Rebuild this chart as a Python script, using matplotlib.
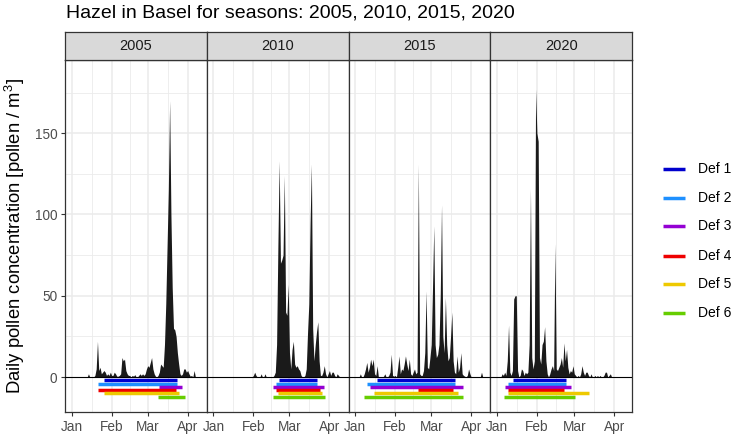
import matplotlib
matplotlib.use("Agg")
import matplotlib.pyplot as plt
from matplotlib.lines import Line2D
import numpy as np

plt.rcParams['font.family'] = ['Liberation Sans', 'DejaVu Sans']
plt.rcParams['mathtext.fontset'] = 'custom'
plt.rcParams['mathtext.rm'] = 'Liberation Sans'
plt.rcParams['mathtext.it'] = 'Liberation Sans:italic'

# ---------------- data ----------------
title = "Hazel in Basel for seasons: 2005, 2010, 2015, 2020"
years = [2005, 2010, 2015, 2020]
ylabel = r"Daily pollen concentration [pollen / m$^{3}$]"
month_labels = ["Jan", "Feb", "Mar", "Apr"]

# daily concentrations, day 0 = 1 January
pollen_2005 = [0, 0, 0, 0, 0, 0, 0, 0, 0, 0, 0, 0, 0, 2, 0, 0, 0, 0, 1, 5,
               22, 4, 6, 2, 3, 4, 3, 1, 2, 1, 3, 1, 1, 3, 2, 0.5, 0.5, 1, 2, 12,
               10, 11, 4, 2, 1, 1, 0, 1, 0.5, 1.5, 0, 0, 1, 2, 1, 2, 1, 2, 5, 7,
               6, 9, 12, 5, 2, 0.5, 0, 1, 3, 8, 7, 6, 20, 45, 80, 115, 170, 100, 55, 30,
               29, 25, 15, 8, 2, 1, 2, 5, 5, 3, 4, 2, 0.5, 1, 0, 4, 0, 0, 0, 0, 0]
pollen_2010 = [0, 0, 0, 0, 0, 0, 0, 0, 0, 0, 0, 0, 0, 0, 0, 0, 0, 0, 0, 0,
               0, 0, 0, 0, 0, 0, 0, 0, 0, 0, 0, 1, 3, 1, 0, 0, 0, 2, 0, 0,
               2, 0, 0, 0, 0, 0, 0, 1, 3, 20, 80, 133, 70, 72, 75, 124, 40, 38, 57, 15,
               5, 17, 22, 8, 6, 7, 5, 4, 1, 0, 0, 1, 5, 27, 45, 95, 131, 30, 10, 20,
               28, 34, 10, 1, 1, 3, 7, 2, 0, 2, 4, 1, 3, 3, 1, 0, 2, 1, 0, 0, 0]
pollen_2015 = [0, 0, 0, 0, 2, 0, 0, 2, 5, 9, 3, 6, 11, 7, 11, 2, 1, 7, 0, 0,
               0, 0, 0.5, 2, 0, 0, 1, 3, 14, 1, 0.5, 1, 0, 6, 13, 2, 5, 4, 8, 13,
               8, 4, 11, 2, 1, 3, 5, 2, 3, 131, 2, 1, 1, 4, 15, 53, 6, 5, 12, 20,
               55, 93, 20, 12, 14, 20, 50, 106, 25, 15, 49, 20, 10, 12, 25, 40, 10, 3, 2, 13,
               3, 6, 15, 2, 1, 0.5, 0, 1, 5, 2, 0, 0, 0, 0, 0, 0, 0, 0, 3, 0, 0]
pollen_2020 = [0, 0, 0, 0, 2, 1, 3, 1, 10, 32, 3, 1, 4, 48, 50, 50, 4, 0, 1, 5,
               4, 1, 3, 2, 3, 20, 116, 12, 5, 10, 177, 150, 145, 12, 8, 20, 22, 31, 10, 2,
               0, 2, 5, 7, 4, 82, 5, 4, 6, 8, 12, 6, 21, 10, 17, 6, 2, 4, 3, 7,
               2, 1, 0, 1, 0, 2, 7, 3, 1, 3, 3, 1, 0, 2, 0, 0, 1, 0, 1, 0,
               1, 0, 0, 1, 3, 3, 0, 1, 2, 0, 0, 0, 0, 0, 0, 0, 0, 0, 0, 0, 0]
pollen = [pollen_2005, pollen_2010, pollen_2015, pollen_2020]

# pollen season definitions: start / end day of year (day 0 = 1 January)
def_labels = ["Def 1", "Def 2", "Def 3", "Def 4", "Def 5", "Def 6"]
def_colors = ["#0000CD", "#1E90FF", "#9400D3", "#EE0000", "#EEC900", "#66CD00"]
def_levels = [-2, -4, -6, -8, -10, -12]
season_start = {
    2005: [25.0, 20.1, 67.9, 20.1, 25.0, 66.9],
    2010: [50.9, 48.2, 46.1, 48.9, 49.9, 46.1],
    2015: [16.9, 9.2, 11.8, 49.1, 14.8, 6.9],
    2020: [12.3, 8.7, 6.1, 8.2, 8.2, 5.1],
}
season_end = {
    2005: [81.4, 81.4, 85.7, 80.6, 83.4, 87.8],
    2010: [80.3, 80.3, 85.9, 82.4, 83.9, 86.9],
    2015: [77.7, 77.7, 84.0, 75.7, 79.8, 84.0],
    2020: [53.7, 53.7, 57.5, 51.7, 71.3, 60.3],
}

# ---------------- figure ----------------
W, H = 734, 437
fig = plt.figure(figsize=(W / 100, H / 100), dpi=100)

def fx(px):
    return px / W

def fy(py):
    return 1 - py / H

left_px, right_px = 65, 632
top_px, bot_px = 60, 412
strip_top = 32
pw = (right_px - left_px) / 4

border_col = "#333333"
grid_col = "#EBEBEB"
tick_col = "#4D4D4D"

for i, yr in enumerate(years):
    x0 = left_px + i * pw
    ax = fig.add_axes([fx(x0), fy(bot_px), pw / W, (bot_px - top_px) / H])
    leap = (yr % 4 == 0)
    majors = [0, 31, 60, 91] if leap else [0, 31, 59, 90]
    minors = [(majors[k] + majors[k + 1]) / 2 for k in range(3)]

    ax.set_xlim(-5.2, 104.8)
    ax.set_ylim(-21.5, 195)

    # grid
    for m in minors:
        ax.axvline(m, color=grid_col, lw=0.6, zorder=0)
    for m in majors:
        ax.axvline(m, color=grid_col, lw=1.1, zorder=0)
    for yv in [25, 75, 125, 175]:
        ax.axhline(yv, color=grid_col, lw=0.6, zorder=0)
    for yv in [50, 100, 150]:
        ax.axhline(yv, color=grid_col, lw=1.1, zorder=0)

    days = np.arange(len(pollen[i]))
    ax.fill_between(days, 0, pollen[i], color="#1A1A1A", lw=0, zorder=2)
    ax.axhline(0, color="black", lw=0.8, zorder=3)

    for k in range(6):
        ax.plot([season_start[yr][k], season_end[yr][k]], [def_levels[k]] * 2,
                color=def_colors[k], lw=2.5, solid_capstyle="butt", zorder=4)

    ax.set_xticks(majors)
    ax.set_xticklabels(month_labels)
    ax.set_yticks([0, 50, 100, 150])
    if i == 0:
        ax.set_yticklabels(["0", "50", "100", "150"])
    else:
        ax.tick_params(axis="y", left=False, labelleft=False)
    ax.tick_params(axis="both", direction="out", length=3, width=0.8,
                   color=border_col, labelcolor=tick_col, labelsize=9.8, pad=2.5)
    for s in ax.spines.values():
        s.set_color(border_col)
        s.set_linewidth(0.9)
    ax.set_facecolor("white")

    # strip
    sax = fig.add_axes([fx(x0), fy(top_px), pw / W, (top_px - strip_top) / H])
    sax.set_facecolor("#D9D9D9")
    sax.set_xticks([])
    sax.set_yticks([])
    for s in sax.spines.values():
        s.set_color(border_col)
        s.set_linewidth(0.9)
    sax.text(0.5, 0.5, str(yr), ha="center", va="center", fontsize=10.5,
             color="#1A1A1A", transform=sax.transAxes)

# title and y label
fig.text(fx(66), fy(18), title, fontsize=14, color="black", ha="left",
         va="baseline")
fig.text(fx(15), fy(236), ylabel, rotation=90, fontsize=13.3,
         ha="center", va="center", color="black")

# legend
leg_y = [169, 198, 226, 256, 284, 313]
for k in range(6):
    fig.add_artist(Line2D([fx(663), fx(685)], [fy(leg_y[k])] * 2,
                          transform=fig.transFigure, color=def_colors[k],
                          lw=2.5, solid_capstyle="butt"))
    fig.text(fx(698), fy(leg_y[k]), def_labels[k], fontsize=10,
             ha="left", va="center", color="black")

fig.savefig("out.png", dpi=100)
